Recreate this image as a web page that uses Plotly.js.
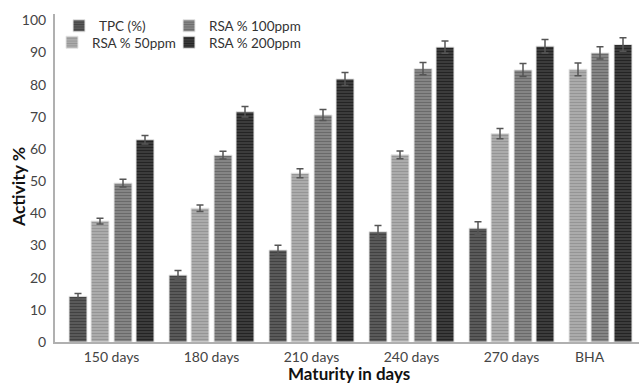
<!DOCTYPE html>
<html>
<head>
<meta charset="utf-8">
<script src="https://cdn.plot.ly/plotly-3.0.1.min.js"></script>
<style>html,body{margin:0;padding:0;background:#fff;}#chart{width:639px;height:385px;}</style>
</head>
<body>
<div id="chart"></div>
<script>
// ---- data ----
var categories = ["150 days", "180 days", "210 days", "240 days", "270 days", "BHA"];
var tpc       = [14.2, 20.8, 28.6, 34.3, 35.4, null];
var tpcErr    = [0.9, 1.4, 1.5, 1.9, 2.0, 0];
var rsa50     = [37.6, 41.6, 52.5, 58.2, 64.8, 84.8];
var rsa50Err  = [0.9, 1.0, 1.4, 1.2, 1.6, 2.0];
var rsa100    = [49.4, 58.1, 70.6, 85.0, 84.6, 89.9];
var rsa100Err = [1.2, 1.2, 1.7, 1.9, 2.0, 1.9];
var rsa200    = [62.9, 71.6, 81.8, 91.7, 92.0, 92.5];
var rsa200Err = [1.3, 1.6, 2.0, 1.9, 2.1, 2.1];
var seriesNames = ["TPC (%)", "RSA % 50ppm", "RSA % 100ppm", "RSA % 200ppm"];
var yTicks = [0, 10, 20, 30, 40, 50, 60, 70, 80, 90, 100];
var xTitle = "Maturity in days";
var yTitle = "Activity %";

// ---- styling ----
var BW = 0.18;
var slot = [-0.425, -0.205, 0.025, 0.245];
function offs(s, shiftLast) {
  return categories.map(function (c, i) {
    return (shiftLast && i === categories.length - 1) ? slot[s - 1] : slot[s];
  });
}
function mk(name, y, err, s, color, fg, legendId, shiftLast) {
  return {
    type: "bar", name: name, x: categories, y: y,
    width: BW, offset: offs(s, shiftLast),
    legend: legendId,
    marker: {
      color: color,
      line: {color: "#e6e6e6", width: 1},
      pattern: {shape: "-", size: 3, solidity: 0.35, fgcolor: fg, bgcolor: color}
    },
    error_y: {type: "data", array: err, visible: true, color: "#555", thickness: 1.5, width: 3.5},
    hoverinfo: "y+name"
  };
}
var data = [
  mk(seriesNames[0], tpc, tpcErr, 0, "#5a5a5a", "#424242", "legend", false),
  mk(seriesNames[1], rsa50, rsa50Err, 1, "#ababab", "#959595", "legend2", true),
  mk(seriesNames[2], rsa100, rsa100Err, 2, "#858585", "#6a6a6a", "legend3", true),
  mk(seriesNames[3], rsa200, rsa200Err, 3, "#3c3c3c", "#242424", "legend4", true)
];

var font = "Lato, 'Open Sans', sans-serif";
var titleFont = {family: font, size: 17.5, color: "#111", weight: "bold"};
function leg(px, py) {
  return {x: (px - 55) / 584, xanchor: "left", y: 1 - (py - 14) / 328, yanchor: "middle",
          orientation: "v", bgcolor: "rgba(0,0,0,0)",
          font: {family: font, size: 13.5, color: "#333"}, itemwidth: 30};
}
var layout = {
  width: 639, height: 385,
  margin: {l: 55, r: 0, t: 14, b: 43},
  paper_bgcolor: "#fff", plot_bgcolor: "#fff",
  barmode: "overlay",
  font: {family: font, size: 14, color: "#444"},
  showlegend: true,
  legend: leg(59, 26),
  legend2: leg(52, 42.5),
  legend3: leg(169, 26),
  legend4: leg(169, 42.5),
  xaxis: {
    type: "category", range: [-0.565, 5.275],
    tickmode: "array", tickvals: [0, 1, 2, 3, 4, 4.78], ticktext: categories,
    showline: true, linecolor: "#b0b0b0", linewidth: 2,
    ticks: "", showgrid: false, zeroline: false,
    tickfont: {family: font, size: 14, color: "#444"},
    ticklabelstandoff: 1
  },
  yaxis: {
    range: [0, 102], tickmode: "array", tickvals: yTicks,
    showline: true, linecolor: "#b0b0b0", linewidth: 2,
    ticks: "", showgrid: false, zeroline: false,
    tickfont: {family: font, size: 14, color: "#444"},
    ticklabelstandoff: 4
  },
  annotations: [{
    text: yTitle, textangle: -90, showarrow: false, borderpad: 0,
    xref: "paper", yref: "paper", x: (18 - 55) / 584, y: (342 - 187) / 328,
    xanchor: "center", yanchor: "middle", font: titleFont
  }, {
    text: xTitle, showarrow: false, borderpad: 0,
    xref: "paper", yref: "paper", x: (349 - 55) / 584, y: (342 - 385) / 328,
    xanchor: "center", yanchor: "bottom", font: {family: font, size: 17, color: "#111", weight: "bold"}
  }]
};
Plotly.newPlot("chart", data, layout, {displayModeBar: false, staticPlot: true});
</script>
</body>
</html>
